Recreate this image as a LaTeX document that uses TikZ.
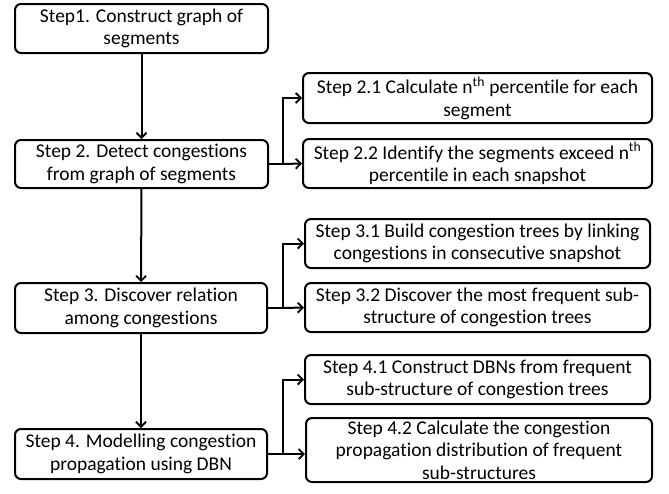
\documentclass[tikz,border=0pt]{standalone}
\usepackage{fontspec}
\setmainfont[Ligatures={NoCommon,NoRare},RawFeature={-clig}]{Carlito}
\usetikzlibrary{arrows.meta}
\begin{document}
\begin{tikzpicture}[x=1pt,y=-1pt,
  box/.style={draw, line width=2pt, rounded corners=6pt, align=center, inner sep=0pt,
    font=\fontsize{19.5}{22.5}\selectfont, text=black},
  arr/.style={line width=2pt, -{Straight Barb[length=5pt,width=10pt,line width=1.8pt]}}]
\useasboundingbox (0,0) rectangle (669,493);
\node[box, minimum width=253pt, minimum height=49pt] (n1) at (141.5,28.5) {Step1. Construct graph of\\segments};
\node[box, minimum width=253pt, minimum height=48pt] (n2) at (141.5,164) {Step 2. Detect congestions\\from graph of segments};
\node[box, minimum width=252pt, minimum height=50pt] (n3) at (141,308) {Step 3. Discover relation\\among congestions};
\node[box, minimum width=252pt, minimum height=50pt] (n4) at (141,454) {Step 4. Modelling congestion\\propagation using DBN};
\node[box, minimum width=349pt, minimum height=50pt] (n21) at (477.5,98) {Step 2.1 Calculate n\textsuperscript{th} percentile for each\\segment};
\node[box, minimum width=349pt, minimum height=49pt] (n22) at (477.5,163.5) {Step 2.2 Identify the segments exceed n\textsuperscript{th}\\percentile in each snapshot};
\node[box, minimum width=345pt, minimum height=49pt] (n31) at (477.5,243.5) {Step 3.1 Build congestion trees by linking\\congestions in consecutive snapshot};
\node[box, minimum width=345pt, minimum height=49pt] (n32) at (477.5,307.5) {Step 3.2 Discover the most frequent sub-\\structure of congestion trees};
\node[box, minimum width=345pt, minimum height=49pt] (n41) at (477.5,379.5) {Step 4.1 Construct DBNs from frequent\\sub-structure of congestion trees};
\node[box, minimum width=346pt, minimum height=64pt] (n42) at (479,450) {Step 4.2 Calculate the congestion\\propagation distribution of frequent\\sub-structures};
\draw[arr] (n1) -- (n2);
\draw[arr] (n2) -- (n3);
\draw[arr] (n3) -- (n4);
\coordinate (b2) at (283,164);
\coordinate (b3) at (283,308);
\coordinate (b4) at (283,454);
\draw[line width=2pt] (n2.east) -- (b2);
\draw[arr] (b2) |- (n21.west);
\draw[arr] (b2) -- (n22.west);
\draw[line width=2pt] (n3.east) -- (b3);
\draw[arr] (b3) |- (n31.west);
\draw[arr] (b3) -- (n32.west);
\draw[line width=2pt] (n4.east) -- (b4);
\draw[arr] (b4) |- (n41.west);
\draw[arr] (b4) -- (b4 -| n42.west);
\end{tikzpicture}
\end{document}
